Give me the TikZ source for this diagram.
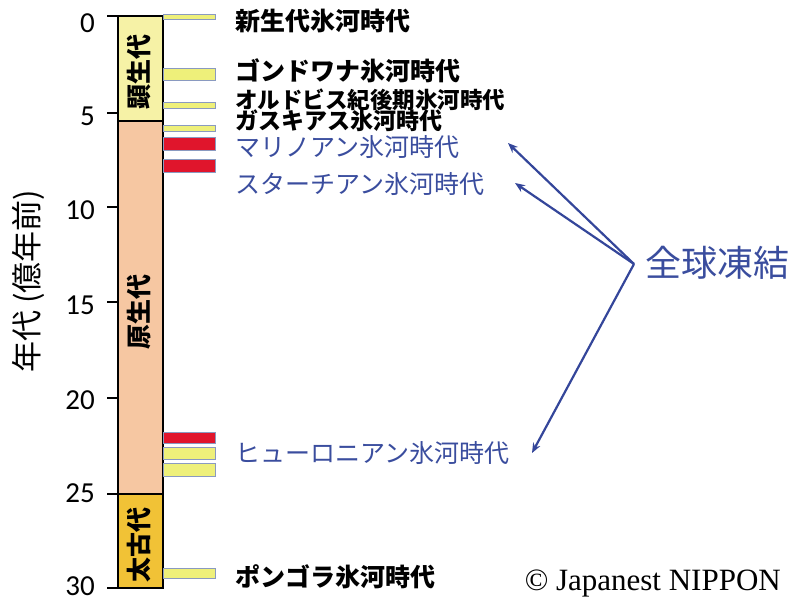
\documentclass[tikz,border=0pt]{standalone}
\usepackage{fontspec}
\setmainfont{Liberation Serif}
\newfontfamily\jp{Noto Sans CJK JP}
\newfontfamily\numfont{Carlito}
\usetikzlibrary{arrows.meta}
\definecolor{phanero}{HTML}{F6F2A6}
\definecolor{protero}{HTML}{F6C7A2}
\definecolor{archean}{HTML}{F1C236}
\definecolor{glacY}{HTML}{EEF07A}
\definecolor{glacR}{HTML}{E0152C}
\definecolor{glacEdge}{HTML}{8A9AC0}
\definecolor{snowblue}{HTML}{3A4D9E}
\definecolor{arrowblue}{HTML}{34469A}
\tikzset{
  era/.style={draw=black, line width=1.1pt},
  ybar/.style={fill=glacY, draw=glacEdge, line width=0.8pt},
  rbar/.style={fill=glacR, draw=glacEdge, line width=0.8pt},
  tickline/.style={draw=black, line width=1.1pt},
  ticknum/.style={anchor=east, inner sep=0pt, font=\numfont\fontsize{29}{29}\selectfont},
  eralabel/.style={rotate=90, inner sep=0pt, font=\jp\bfseries\fontsize{25}{25}\selectfont},
  blacklab/.style={anchor=west, inner sep=0pt, font=\jp\bfseries\fontsize{25}{25}\selectfont},
  bluelab/.style={anchor=west, inner sep=0pt, text=snowblue, font=\jp\fontsize{25}{25}\selectfont},
  snowarrow/.style={draw=arrowblue, line width=2.2pt, -{Stealth[length=10pt,width=8pt]}},
}
\begin{document}
\begin{tikzpicture}[x=1pt,y=-1pt]
\useasboundingbox (0,0) rectangle (796,603);
% column
\path[era, fill=phanero] (118,16) rectangle (163,121);
\path[era, fill=protero] (118,121) rectangle (163,494);
\path[era, fill=archean] (118,494) rectangle (163,588);
\node[eralabel] (phan) at (139,72) {顕生代};
\node[eralabel] (prot) at (139,312) {原生代};
\node[eralabel] (arch) at (139,545) {太古代};
% axis ticks
\foreach \v/\yy/\ly in {0/16/23,5/113/116,10/207/210,15/302/305,20/398/400,25/494/493,30/588/586}{
  \draw[tickline] (107,\yy) -- (118,\yy);
  \node[ticknum] (t\v) at (95,\ly) {\v};
}
\node[rotate=90, inner sep=0pt, font=\jp\fontsize{31}{31}\selectfont] (ylab) at (28,281) {年代 (億年前)};
% glaciation bars
\path[ybar] (163,14) rectangle (215,19);
\path[ybar] (163,68) rectangle (215,80);
\path[ybar] (163,102) rectangle (215,108);
\path[ybar] (163,125) rectangle (215,131);
\path[rbar] (163,137) rectangle (215,150);
\path[rbar] (163,159) rectangle (215,172);
\path[rbar] (163,432) rectangle (215,443);
\path[ybar] (163,447) rectangle (215,459);
\path[ybar] (163,463) rectangle (215,476);
\path[ybar] (163,568) rectangle (215,578);
% labels
\node[blacklab] (cen) at (235,21) {新生代氷河時代};
\node[blacklab] (gon) at (235,71) {ゴンドワナ氷河時代};
\node[blacklab, font=\jp\bfseries\fontsize{22.5}{22.5}\selectfont] (ord) at (235,100) {オルドビス紀後期氷河時代};
\node[blacklab, font=\jp\bfseries\fontsize{23}{23}\selectfont] (gas) at (235,121) {ガスキアス氷河時代};
\node[bluelab] (mar) at (235,147) {マリノアン氷河時代};
\node[bluelab] (stu) at (235,184) {スターチアン氷河時代};
\node[bluelab] (hur) at (235,453) {ヒューロニアン氷河時代};
\node[blacklab] (pon) at (235,577) {ポンゴラ氷河時代};
% snowball
\node[anchor=west, inner sep=0pt, text=snowblue, font=\jp\fontsize{36}{36}\selectfont] (snow) at (645,263) {全球凍結};
\coordinate (hub) at (634,264);
\coordinate (tmar) at (508,143);
\coordinate (tstu) at (515,183);
\coordinate (thur) at (532,453);
\draw[snowarrow] (hub) -- (tmar);
\draw[snowarrow] (hub) -- (tstu);
\draw[snowarrow] (hub) -- (thur);
% copyright
\node[anchor=east, inner sep=0pt, font=\fontsize{31}{31}\selectfont] (copy) at (781,583) {© Japanest NIPPON};
\end{tikzpicture}
\end{document}
